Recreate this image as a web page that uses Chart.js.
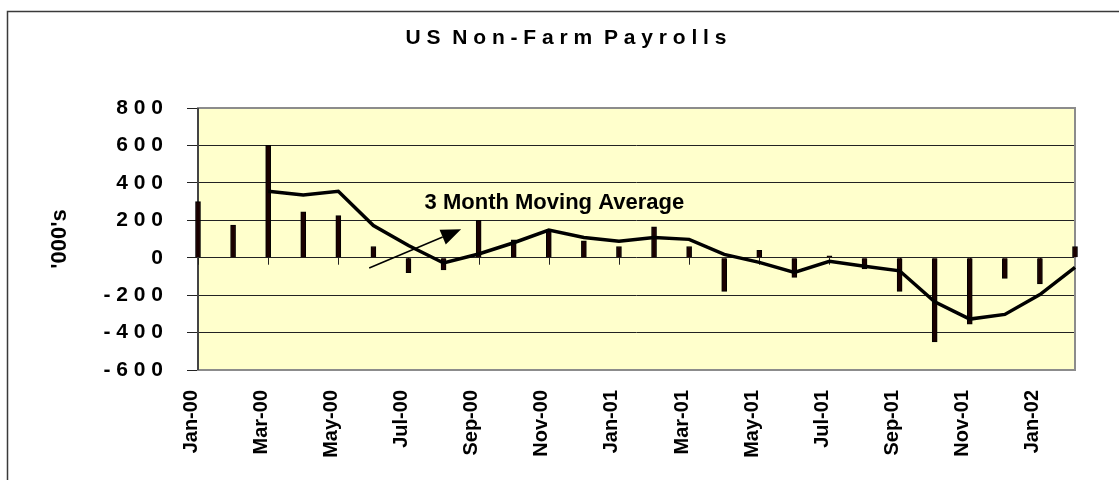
<!DOCTYPE html>
<html>
<head>
<meta charset="utf-8">
<script src="https://cdn.jsdelivr.net/npm/chart.js@4.4.0/dist/chart.umd.min.js"></script>
<style>
  html, body { margin: 0; padding: 0; background: #fff; }
  #wrap { width: 1119px; height: 480px; position: relative; }
</style>
</head>
<body>
<div id="wrap"><canvas id="payrolls"></canvas></div>
<script>
const months = [
  "Jan-00", "Feb-00", "Mar-00", "Apr-00", "May-00", "Jun-00", "Jul-00", "Aug-00",
  "Sep-00", "Oct-00", "Nov-00", "Dec-00", "Jan-01", "Feb-01", "Mar-01", "Apr-01",
  "May-01", "Jun-01", "Jul-01", "Aug-01", "Sep-01", "Oct-01", "Nov-01", "Dec-01",
  "Jan-02", "Feb-02"
];
// monthly change, '000s
const payrolls = [300, 175, 600, 245, 225, 60, -80, -65, 200, 95, 150, 90, 60, 165, 60, -180,
  40, -105, 10, -60, -180, -450, -355, -110, -140, 60];
// 3 month moving average (starts in March 2000)
const movingAvg = [null, null, 355, 335, 355, 172, 65, -28, 20, 80, 148, 108, 88, 108, 98, 18,
  -25, -78, -19, -46, -70, -236, -328, -303, -197, -51];

const yMin = -600, yMax = 800, yStep = 200;

const titleText = "U S  N o n - F a r m  P a y r o l l s";

// annotation, in data units (month index, value)
const noteText = "3 Month Moving Average";
const noteAt = [6.46, 259];
const arrowFrom = [4.88, -55];
const arrowTo = [7.5, 152];

const FONT = '"Liberation Sans", Arial, sans-serif';

const spaced = (s) => String(s).split("").join(" ");

const decor = {
  id: "decor",
  beforeDraw(chart) {
    const { ctx, chartArea: a } = chart;
    ctx.save();
    ctx.fillStyle = "#fff";
    ctx.fillRect(0, 0, chart.width, chart.height);
    ctx.strokeStyle = "#3a3a3a";
    ctx.lineWidth = 1.5;
    ctx.strokeRect(7.5, 11.5, chart.width + 40, chart.height + 40);
    ctx.fillStyle = "#FFFFCC";
    ctx.fillRect(a.left, a.top, a.right - a.left, a.bottom - a.top);
    // title, centred on the plot+frame like the original
    ctx.fillStyle = "#000";
    ctx.font = "bold 21px " + FONT;
    ctx.textAlign = "center";
    ctx.textBaseline = "middle";
    ctx.fillText(titleText, 566, 38);
    ctx.restore();
  },
  beforeDatasetsDraw(chart) {
    const { ctx, chartArea: a, scales } = chart;
    ctx.save();
    // plot frame
    ctx.strokeStyle = "#8c8c8c";
    ctx.lineWidth = 2;
    ctx.strokeRect(a.left, a.top, a.right - a.left, a.bottom - a.top);
    ctx.strokeStyle = "#444";
    ctx.beginPath();
    ctx.moveTo(a.left, a.top);
    ctx.lineTo(a.left, a.bottom);
    ctx.stroke();
    // small ticks hanging off the zero line
    const y0 = scales.y.getPixelForValue(0);
    ctx.strokeStyle = "#222";
    ctx.lineWidth = 1;
    months.forEach((m, i) => {
      if (i % 2) return;
      const x = Math.round(scales.x.getPixelForValue(i)) + 0.5;
      ctx.beginPath();
      ctx.moveTo(x, y0);
      ctx.lineTo(x, y0 + 7);
      ctx.stroke();
    });
    ctx.restore();
  },
  afterDatasetsDraw(chart) {
    const { ctx, scales } = chart;
    const px = (p) => [scales.x.getPixelForValue(p[0]), scales.y.getPixelForValue(p[1])];
    ctx.save();
    ctx.fillStyle = "#000";
    ctx.font = "bold 22px " + FONT;
    ctx.textAlign = "left";
    ctx.textBaseline = "alphabetic";
    const [tx, ty] = px(noteAt);
    ctx.fillText(noteText, tx, ty);

    const [x1, y1] = px(arrowFrom);
    const [x2, y2] = px(arrowTo);
    const ang = Math.atan2(y2 - y1, x2 - x1);
    const headLen = 20, headHalf = 8;
    const bx = x2 - headLen * Math.cos(ang), by = y2 - headLen * Math.sin(ang);
    ctx.strokeStyle = "#000";
    ctx.lineWidth = 1.5;
    ctx.beginPath();
    ctx.moveTo(x1, y1);
    ctx.lineTo(bx, by);
    ctx.stroke();
    ctx.beginPath();
    ctx.moveTo(x2, y2);
    ctx.lineTo(bx + headHalf * Math.sin(ang), by - headHalf * Math.cos(ang));
    ctx.lineTo(bx - headHalf * Math.sin(ang), by + headHalf * Math.cos(ang));
    ctx.closePath();
    ctx.fill();
    ctx.restore();
  }
};

new Chart(document.getElementById("payrolls"), {
  type: "bar",
  data: {
    labels: months,
    datasets: [
      {
        type: "line",
        label: "3 Month Moving Average",
        data: movingAvg,
        borderColor: "#000",
        borderWidth: 3.5,
        pointRadius: 0,
        tension: 0,
        fill: false,
        clip: false,
        order: 0
      },
      {
        type: "bar",
        label: "Non-Farm Payrolls",
        data: payrolls,
        backgroundColor: "#1a0000",
        borderColor: "#000",
        borderWidth: 1,
        barThickness: 5,
        clip: false,
        order: 1
      }
    ]
  },
  options: {
    responsive: true,
    maintainAspectRatio: false,
    animation: false,
    layout: { padding: { left: 0, right: 44, top: 108, bottom: 0 } },
    plugins: {
      legend: { display: false },
      tooltip: { enabled: false },
      title: { display: false }
    },
    scales: {
      x: {
        offset: false,
        grid: { display: false, drawTicks: false },
        border: { display: false },
        ticks: {
          autoSkip: false,
          minRotation: 90,
          maxRotation: 90,
          padding: 20,
          labelOffset: -7,
          color: "#000",
          font: { family: FONT, size: 20, weight: "bold" },
          callback(value, index) {
            return index % 2 === 0 ? this.getLabelForValue(value) : "";
          }
        },
        afterFit(scale) { scale.height = 110; }
      },
      y: {
        min: yMin,
        max: yMax,
        grid: { color: "#222", lineWidth: 1, drawTicks: true, tickLength: 11 },
        border: { display: false },
        ticks: {
          stepSize: yStep,
          padding: 24,
          color: "#000",
          font: { family: FONT, size: 21, weight: "bold" },
          callback: (v) => spaced(v)
        },
        title: {
          display: true,
          text: "'000's",
          color: "#000",
          font: { family: FONT, size: 22, weight: "bold" },
          padding: { top: 47, bottom: 0 }
        },
        afterFit(scale) { scale.width = 198; }
      }
    }
  },
  plugins: [decor]
});
</script>
</body>
</html>
